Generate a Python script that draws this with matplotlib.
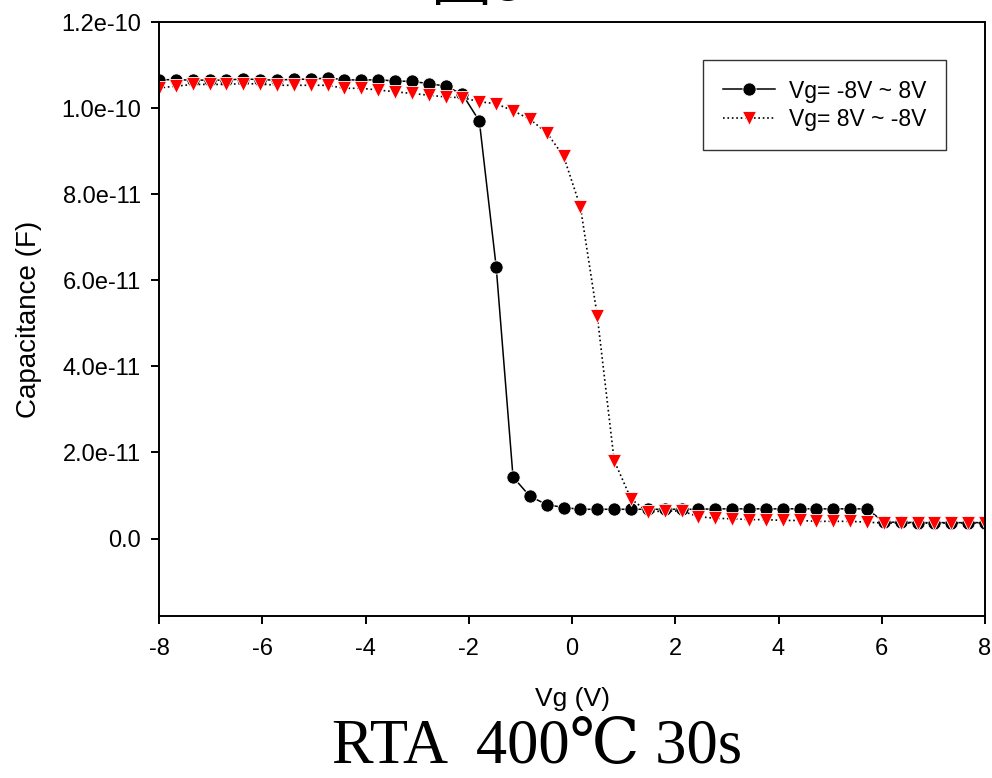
import matplotlib
matplotlib.use("Agg")
import matplotlib.pyplot as plt

plt.rcParams["font.family"] = ["Liberation Sans", "DejaVu Sans"]

# gate voltage sweep points (V)
vg = [-8.000, -7.673, -7.347, -7.020, -6.694, -6.367, -6.041, -5.714, -5.388, -5.061,
      -4.735, -4.408, -4.082, -3.755, -3.429, -3.102, -2.776, -2.449, -2.122, -1.796,
      -1.469, -1.143, -0.816, -0.490, -0.163, 0.163, 0.490, 0.816, 1.143, 1.469,
      1.796, 2.122, 2.449, 2.776, 3.102, 3.429, 3.755, 4.082, 4.408, 4.735,
      5.061, 5.388, 5.714, 6.041, 6.367, 6.694, 7.020, 7.347, 7.673, 8.000]

# capacitance, units of 1e-11 F
c_fwd = [10.66, 10.66, 10.65, 10.65, 10.65, 10.68, 10.66, 10.65, 10.67, 10.67,
         10.70, 10.66, 10.65, 10.66, 10.63, 10.62, 10.57, 10.51, 10.32, 9.70,
         6.31, 1.43, 0.98, 0.79, 0.72, 0.68, 0.68, 0.68, 0.68, 0.68,
         0.68, 0.68, 0.68, 0.69, 0.69, 0.69, 0.69, 0.69, 0.69, 0.69,
         0.69, 0.69, 0.69, 0.38, 0.38, 0.37, 0.37, 0.37, 0.37, 0.37]
c_rev = [10.47, 10.51, 10.55, 10.55, 10.55, 10.57, 10.56, 10.53, 10.53, 10.53,
         10.53, 10.46, 10.46, 10.42, 10.38, 10.34, 10.30, 10.26, 10.24, 10.15,
         10.10, 9.94, 9.74, 9.43, 8.88, 7.70, 5.16, 1.81, 0.92, 0.62,
         0.64, 0.64, 0.51, 0.47, 0.46, 0.44, 0.44, 0.42, 0.42, 0.40,
         0.40, 0.40, 0.38, 0.36, 0.36, 0.36, 0.36, 0.36, 0.36, 0.36]

x_ticks = [-8, -6, -4, -2, 0, 2, 4, 6, 8]
y_ticks = [0, 2e-11, 4e-11, 6e-11, 8e-11, 1.0e-10, 1.2e-10]
y_labels = ["0.0", "2.0e-11", "4.0e-11", "6.0e-11", "8.0e-11", "1.0e-10", "1.2e-10"]

fig = plt.figure(figsize=(9.92, 7.78), dpi=100)
ax = fig.add_axes([0.1603, 0.2082, 0.8327, 0.7635])

ax.plot(vg, [v * 1e-11 for v in c_fwd], color="black", lw=1.1, ls="-",
        marker="o", ms=9.5, mfc="black", mec="white", mew=0.6,
        label="Vg= -8V ~ 8V")
ax.plot(vg, [v * 1e-11 for v in c_rev], color="black", lw=1.2, ls=":",
        marker="v", ms=9.5, mfc="red", mec="white", mew=0.6,
        label="Vg= 8V ~ -8V")

ax.set_xlim(-8, 8)
ax.set_ylim(-1.8e-11, 1.2e-10)
ax.set_xticks(x_ticks)
ax.set_xticklabels([str(t) for t in x_ticks])
ax.set_yticks(y_ticks)
ax.set_yticklabels(y_labels)
ax.tick_params(direction="out", length=6, width=1.4, labelsize=17, pad=10)
ax.tick_params(axis="y", pad=7)
for s in ax.spines.values():
    s.set_linewidth(1.4)

ax.set_xlabel("Vg (V)", fontsize=19)
ax.xaxis.set_label_coords(0.5, -0.12)
ax.set_ylabel("Capacitance (F)", fontsize=20)
ax.yaxis.set_label_coords(-0.142, 0.5)

leg = ax.legend(loc="upper left", bbox_to_anchor=(0.6586, 0.936), fontsize=16.5,
                frameon=True, fancybox=False, edgecolor="black", handlelength=2.3,
                markerscale=1.0, borderpad=0.85, labelspacing=0.22, handletextpad=0.6,
                borderaxespad=0)
leg.get_frame().set_linewidth(1.0)

fig.text(0.434, 1.0, "圖3-11", fontsize=44, va="baseline", ha="left",
         family=["Noto Sans CJK TC", "DejaVu Sans"])
fig.text(0.5415, 0.019, "RTA  400℃ 30s", fontsize=45, va="baseline", ha="center",
         family=["Liberation Serif", "DejaVu Serif", "Noto Sans CJK TC"])

fig.savefig("out.png", dpi=100)
